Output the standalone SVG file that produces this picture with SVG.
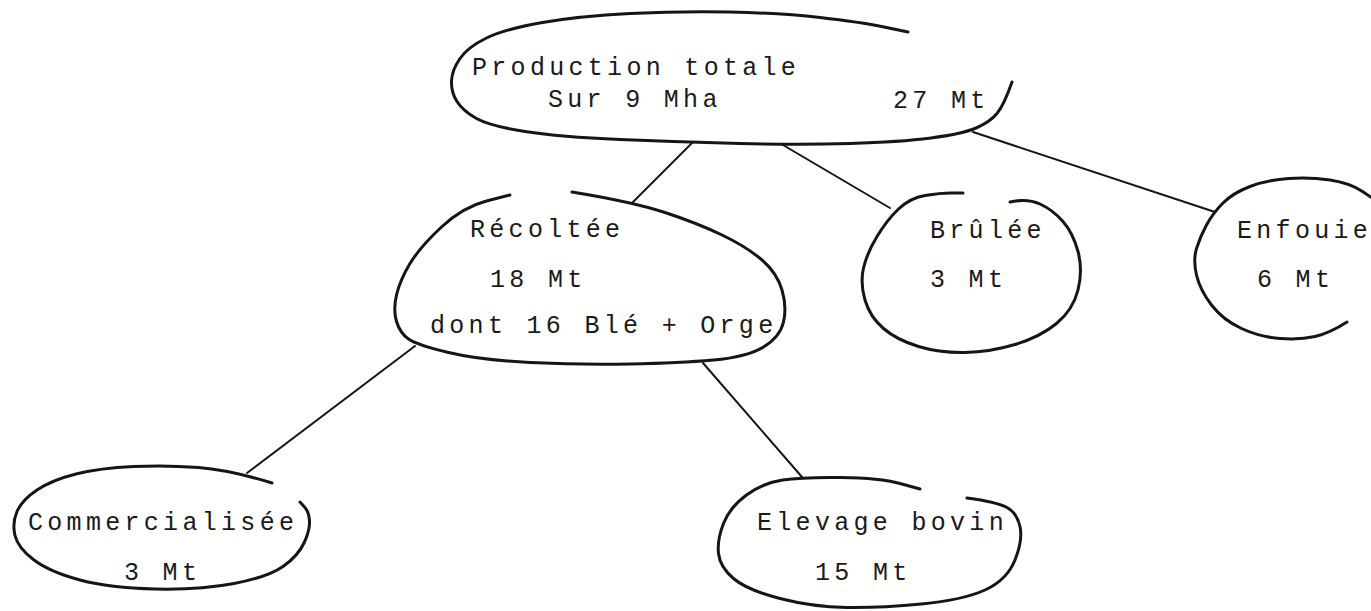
<svg xmlns="http://www.w3.org/2000/svg" width="1371" height="611" viewBox="0 0 1371 611">
<style>
.shape{fill:none;stroke:#151515;stroke-width:3;stroke-linecap:round;stroke-linejoin:round}
.edge{fill:none;stroke:#151515;stroke-width:2;stroke-linecap:round}
.t{font-family:"Liberation Mono","DejaVu Sans Mono",monospace;font-size:25px;letter-spacing:4.3px;fill:#1a1a1a}
</style>
<rect width="1371" height="611" fill="#ffffff"/>
<g id="connectors">
<line class="edge" x1="693" y1="142" x2="633" y2="202"/>
<line class="edge" x1="783" y1="145" x2="890" y2="208"/>
<line class="edge" x1="973" y1="132" x2="1215" y2="212"/>
<line class="edge" x1="415" y1="346" x2="247" y2="473"/>
<line class="edge" x1="703" y1="363" x2="802" y2="477"/>
</g>
<g id="production">
<path class="shape" d="M908,32 L884,27 Q860,22 820,17.5 Q780,13 730,12 Q680,11 630,13.5 Q580,16 542.5,22.5 Q505,29 486.5,38 Q468,47 460,58.5 Q452,70 451.5,81 Q451,92 457,101.5 Q463,111 476.5,118.5 Q490,126 525,131.5 Q560,137 620,139.5 Q680,142 740,143.5 Q800,145 850,143.5 Q900,142 931,138 Q962,134 976,128 Q990,122 997,113.5 Q1004,105 1012,82"/>
<text class="t" x="472" y="75">Production totale</text>
<text class="t" x="548" y="107">Sur 9 Mha</text>
<text class="t" x="893" y="108">27 Mt</text>
</g>
<g id="recoltee">
<path class="shape" d="M510,195 L486.5,201 Q463,207 441.5,227 Q420,247 410,263.5 Q400,280 396.5,295 Q393,310 396.5,321.5 Q400,333 408.5,339 Q417,345 448.5,352.5 Q480,360 530,362.5 Q580,365 630,364 Q680,363 713.5,360 Q747,357 763.5,347 Q780,337 783.5,322 Q787,307 782,290 Q777,273 762,260 Q747,247 722,235 Q697,223 665,212.5 Q633,202 572,192"/>
<text class="t" x="470" y="237">Récoltée</text>
<text class="t" x="490" y="287">18 Mt</text>
<text class="t" x="430" y="333">dont 16 Blé + Orge</text>
</g>
<g id="brulee">
<path class="shape" d="M963,193 L951.5,193 Q940,193 925,195.5 Q910,198 898.5,209 Q887,220 877,236.5 Q867,253 863.5,268 Q860,283 865,300 Q870,317 883.5,328.5 Q897,340 918.5,346.5 Q940,353 965,352.5 Q990,352 1015,344.5 Q1040,337 1056.5,323.5 Q1073,310 1078,290 Q1083,270 1078,251.5 Q1073,233 1063,221.5 Q1053,210 1040,204 Q1027,198 1010,202"/>
<text class="t" x="930" y="238">Brûlée</text>
<text class="t" x="930" y="287">3 Mt</text>
</g>
<g id="enfouie">
<path class="shape" d="M1375,200 L1362.5,191.5 Q1350,183 1330,180 Q1310,177 1288.5,178.5 Q1267,180 1250,186.5 Q1233,193 1223,203 Q1213,213 1206.5,225 Q1200,237 1196.5,248.5 Q1193,260 1196.5,275 Q1200,290 1211.5,305 Q1223,320 1241.5,328.5 Q1260,337 1280,338.5 Q1300,340 1315,336.5 Q1330,333 1347,322"/>
<text class="t" x="1237" y="238">Enfouie</text>
<text class="t" x="1257" y="287">6 Mt</text>
</g>
<g id="commercialisee">
<path class="shape" d="M300,502 L304.5,507 Q309,512 309.5,521 Q310,530 304,543 Q298,556 283,566.5 Q268,577 234,583.5 Q200,590 155,589 Q110,588 80,580 Q50,572 34,560 Q18,548 15,535.5 Q12,523 17,511.5 Q22,500 37,490 Q52,480 76,474 Q100,468 133.5,466.5 Q167,465 198.5,467.5 Q230,470 272,483"/>
<text class="t" x="28" y="530">Commercialisée</text>
<text class="t" x="124" y="580">3 Mt</text>
</g>
<g id="elevage">
<path class="shape" d="M920,489 L900,483.5 Q880,478 841,477.5 Q802,477 782.5,480 Q763,483 746.5,495 Q730,507 723.5,523.5 Q717,540 718.5,553.5 Q720,567 733.5,578.5 Q747,590 780,598.5 Q813,607 846.5,607.5 Q880,608 921.5,604 Q963,600 985,590 Q1007,580 1015,560 Q1023,540 1020,526.5 Q1017,513 1007,507.5 Q997,502 967,498"/>
<text class="t" x="757" y="530">Elevage bovin</text>
<text class="t" x="815" y="580">15 Mt</text>
</g>
</svg>
